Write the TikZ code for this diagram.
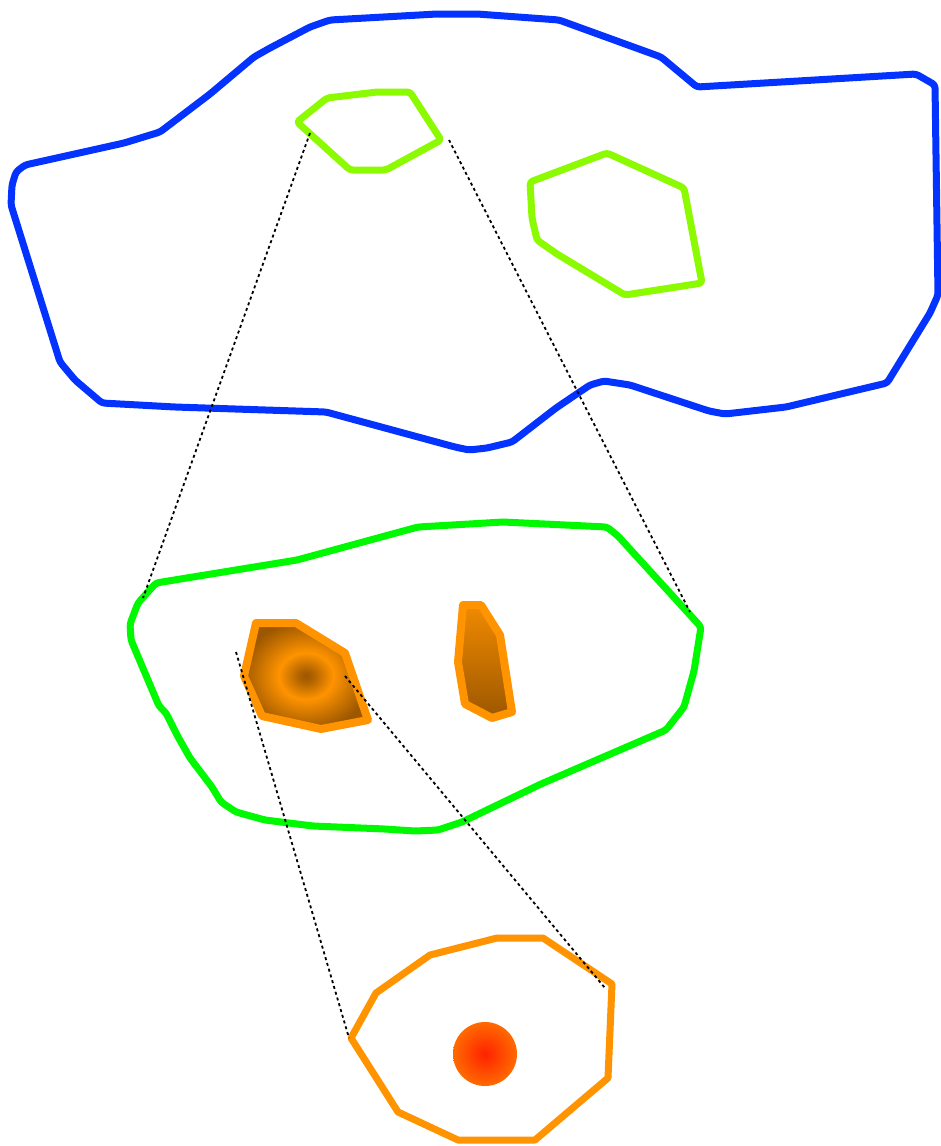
\documentclass[tikz,border=0pt]{standalone}
\usetikzlibrary{calc}

\definecolor{regionblue}{HTML}{0433FF}
\definecolor{zonelime}{HTML}{8CFA00}
\definecolor{zonegreen}{HTML}{00F900}
\definecolor{cellorange}{HTML}{FF9300}
\definecolor{celldark}{HTML}{9C5700}
\definecolor{coreorange}{HTML}{FF6A00}
\definecolor{corered}{HTML}{FF2200}

\pgfdeclareradialshading{ringshade}{\pgfpoint{0bp}{0bp}}{%
  color(0bp)=(celldark); color(3bp)=(celldark!80!cellorange);
  color(11bp)=(cellorange); color(19bp)=(celldark!55!cellorange);
  color(26bp)=(celldark); color(100bp)=(celldark)}

\begin{document}
\begin{tikzpicture}[
    x=1pt, y=-1pt,
    outline/.style={line width=7pt, line join=round, rounded corners=3pt},
    region/.style={outline, draw=regionblue},
    zone/.style={outline, draw=zonelime},
    area/.style={outline, draw=zonegreen},
    cell/.style={line width=8pt, line join=round, draw=cellorange},
    zoomline/.style={dash pattern=on 3pt off 3pt, line width=1.8pt}
]
    \useasboundingbox (0,0) rectangle (941,1146);

    % top level region
    \draw[region] (330,20) -- (437,14) -- (477,14) -- (559,20) -- (661,57) -- (697,87)
        -- (916,74) -- (935,85) -- (938,295) -- (930,313) -- (887,383) -- (786,407)
        -- (725,414) -- (709,411) -- (630,385) -- (604,381) -- (590,385) -- (556,408)
        -- (512,442) -- (487,448) -- (469,450) -- (455,447) -- (326,412) -- (175,407)
        -- (102,403) -- (75,380) -- (60,362) -- (11,205) -- (12,185) -- (16,172)
        -- (25,165) -- (124,143) -- (160,132) -- (210,94) -- (254,57) -- (270,48)
        -- (310,27) -- cycle;

    % zones inside the region
    \draw[zone] (297,122) -- (327,98) -- (377,92) -- (410,92) -- (441,140)
        -- (386,170) -- (350,170) -- cycle;
    \draw[zone] (530,182) -- (607,153) -- (684,188) -- (702,283) -- (625,295)
        -- (557,254) -- (537,240) -- (532,218) -- cycle;

    % magnified zone
    \draw[area] (156,583) -- (297,560) -- (418,527) -- (503,522) -- (607,527)
        -- (618,536) -- (701,627) -- (694,671) -- (684,707) -- (666,730) -- (541,784)
        -- (462,822) -- (438,830) -- (415,831) -- (385,829) -- (313,826) -- (265,820)
        -- (236,812) -- (221,802) -- (212,787) -- (190,758) -- (177,735) -- (166,713)
        -- (159,706) -- (131,640) -- (130,624) -- (138,603) -- cycle;

    % cells
    \draw[cell, shading=ringshade] (256,623) -- (296,623) -- (345,653) -- (368,720)
        -- (321,729) -- (262,716) -- (244,676) -- cycle;
    \draw[cell, top color=cellorange!85!celldark, bottom color=celldark]
        (463,605) -- (481,605) -- (500,635) -- (512,712) -- (492,718) -- (465,704)
        -- (458,662) -- cycle;

    % magnified cell
    \draw[cell, line width=7pt] (376,993) -- (430,955) -- (497,938) -- (543,938)
        -- (612,984) -- (608,1078) -- (535,1140) -- (458,1140) -- (398,1112)
        -- (351,1038) -- cycle;
    \shade[inner color=corered, outer color=coreorange] (485,1054) circle (32);

    % zoom guides
    \coordinate (zoneL) at (310,133);
    \coordinate (zoneR) at (449,140);
    \coordinate (areaL) at (143,598);
    \coordinate (areaR) at (690,612);
    \coordinate (cellL) at (236,652);
    \coordinate (cellR) at (345,676);
    \coordinate (nucL) at (349,1038);
    \coordinate (nucR) at (605,988);
    \draw[zoomline] (zoneL) -- (areaL);
    \draw[zoomline] (zoneR) -- (areaR);
    \draw[zoomline] (cellL) -- (nucL);
    \draw[zoomline] (cellR) -- (nucR);
\end{tikzpicture}
\end{document}
